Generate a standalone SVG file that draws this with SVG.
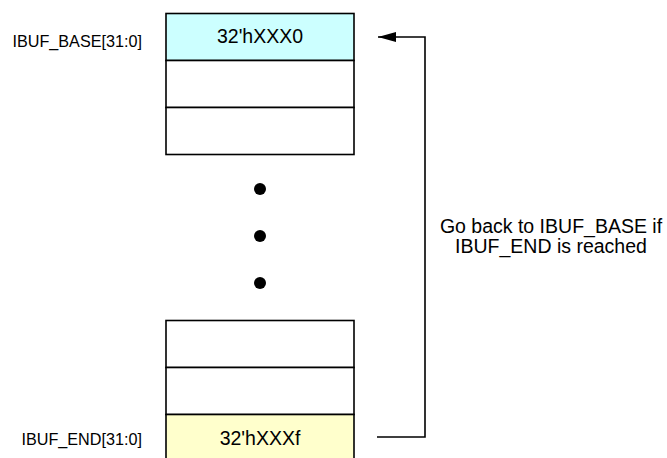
<svg xmlns="http://www.w3.org/2000/svg" width="667" height="458" viewBox="0 0 667 458">
<defs>
<style>
.cell{stroke:#000;stroke-width:1.6;fill:#fff}
.txt{font-family:"Liberation Sans",Arial,sans-serif;fill:#000}
.conn{stroke:#000;stroke-width:1.6;fill:none}
</style>
<marker id="ah" markerUnits="userSpaceOnUse" markerWidth="20" markerHeight="12" refX="18" refY="5" orient="auto">
<path d="M0,0 L18,5 L0,10 Z" fill="#000"/>
</marker>
</defs>
<rect width="667" height="458" fill="#fff"/>
<g id="label-base"><text class="txt" x="142" y="47" font-size="16.2" text-anchor="end">IBUF_BASE[31:0]</text></g>
<g id="label-end"><text class="txt" x="142" y="445" font-size="16.2" text-anchor="end">IBUF_END[31:0]</text></g>
<g id="cell-top0"><rect class="cell" x="166" y="13.5" width="188" height="47" fill="#CCFFFF" style="fill:#CCFFFF"/><text class="txt" x="260" y="43" font-size="19.5" text-anchor="middle">32'hXXX0</text></g>
<g id="cell-top1"><rect class="cell" x="166" y="60.5" width="188" height="47"/></g>
<g id="cell-top2"><rect class="cell" x="166" y="107.5" width="188" height="47"/></g>
<g id="dots">
<circle cx="260" cy="189" r="6"/>
<circle cx="260" cy="236" r="6"/>
<circle cx="260" cy="283" r="6"/>
</g>
<g id="cell-bot0"><rect class="cell" x="166" y="320.5" width="188" height="47"/></g>
<g id="cell-bot1"><rect class="cell" x="166" y="367.5" width="188" height="47"/></g>
<g id="cell-bot2"><rect class="cell" x="166" y="414.5" width="188" height="47" style="fill:#FFFFCC"/><text class="txt" x="260" y="445" font-size="19.5" text-anchor="middle">32'hXXXf</text></g>
<g id="connectors">
<path class="conn" d="M377,437 L425,437 L425,37 L378,37" marker-end="url(#ah)"/>
</g>
<g id="note"><text class="txt" font-size="19.5" text-anchor="middle"><tspan x="551" y="233">Go back to IBUF_BASE if</tspan><tspan x="551" y="253">IBUF_END is reached</tspan></text></g>
</svg>
